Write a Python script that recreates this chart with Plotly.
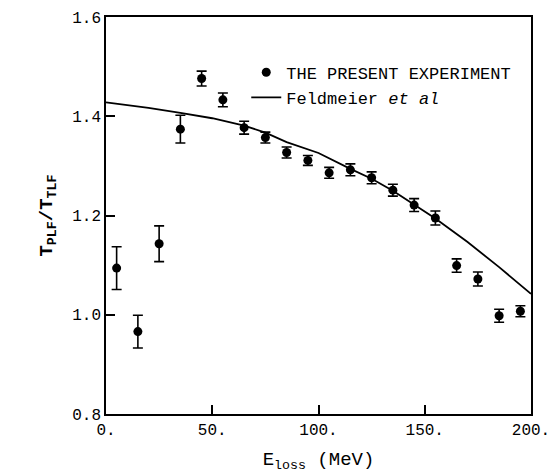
import plotly.graph_objects as go

# Experimental points
e_loss = [5, 15, 25, 35, 45, 55, 65, 75, 85, 95, 105, 115, 125, 135, 145, 155, 165, 175, 185, 195]
ratio = [1.094, 0.966, 1.143, 1.374, 1.476, 1.433, 1.377, 1.357, 1.327, 1.311,
         1.286, 1.292, 1.276, 1.251, 1.221, 1.195, 1.099, 1.072, 0.998, 1.007]
ratio_err = [0.043, 0.033, 0.036, 0.028, 0.015, 0.014, 0.013, 0.011, 0.011, 0.010,
             0.011, 0.012, 0.012, 0.012, 0.013, 0.014, 0.0135, 0.014, 0.013, 0.011]

# Feldmeier et al curve
theory_x = [0, 20, 35, 50, 65, 75, 85, 100, 115, 125, 135, 145, 155, 170, 185, 200]
theory_y = [1.428, 1.417, 1.407, 1.396, 1.381, 1.367, 1.348, 1.326, 1.294, 1.274,
            1.250, 1.222, 1.194, 1.147, 1.096, 1.042]

x_tickvals = [0, 50, 100, 150, 200]
x_ticktext = ["0.", "50.", "100.", "150.", "200."]
y_tickvals = [0.8, 1.0, 1.2, 1.4, 1.6]
y_ticktext = ["0.8", "1.0", "1.2", "1.4", "1.6"]

MONO = "Liberation Mono"

fig = go.Figure()
fig.add_trace(go.Scatter(x=e_loss, y=ratio, mode="markers", name="THE PRESENT EXPERIMENT",
                         marker=dict(color="black", size=9),
                         error_y=dict(type="data", array=ratio_err, color="black",
                                      thickness=1.6, width=5)))
fig.add_trace(go.Scatter(x=theory_x, y=theory_y, mode="lines", name="Feldmeier <i>et al</i>",
                         line=dict(color="black", width=1.8)))

fig.update_xaxes(range=[0, 200], tickvals=x_tickvals, ticktext=x_ticktext,
                 showline=True, linecolor="black", linewidth=1.6, mirror=True,
                 ticks="inside", ticklen=9, tickwidth=1.6, tickcolor="black", showgrid=False,
                 zeroline=False,
                 tickfont=dict(family=MONO, size=16, color="black"),
                 title=dict(text="E<sub>loss</sub> (MeV)",
                            font=dict(family=MONO, size=19, color="black")))
fig.update_yaxes(range=[0.8, 1.6], tickvals=y_tickvals, ticktext=y_ticktext,
                 showline=True, linecolor="black", linewidth=1.6, mirror=True,
                 ticks="inside", ticklen=9, tickwidth=1.6, tickcolor="black", showgrid=False,
                 zeroline=False,
                 tickfont=dict(family=MONO, size=16, color="black"),
                 title=dict(text="<b>T<sub>PLF</sub>/T<sub>TLF</sub></b>",
                            font=dict(family=MONO, size=19, color="black")))

fig.update_layout(width=547, height=465,
                  margin=dict(l=98, r=24, t=9, b=59, autoexpand=False),
                  paper_bgcolor="white", plot_bgcolor="white",
                  showlegend=True,
                  legend=dict(x=0.33, y=0.905, xanchor="left", yanchor="top",
                              bgcolor="rgba(0,0,0,0)", borderwidth=0, itemwidth=30,
                              font=dict(family=MONO, size=17, color="black")))

fig.write_html("out.html")
